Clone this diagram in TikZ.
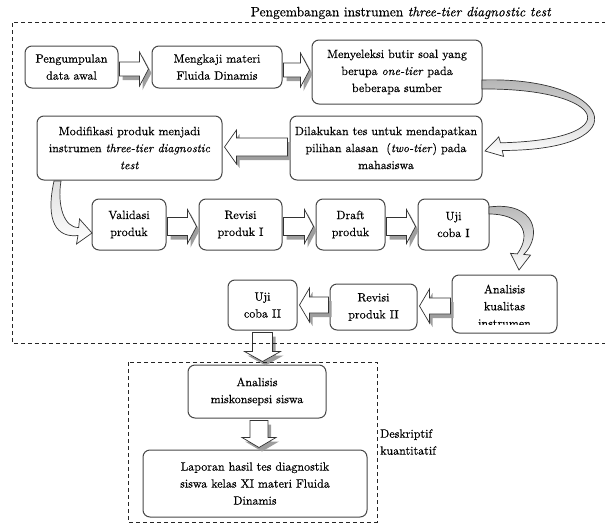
\documentclass[tikz,border=0pt]{standalone}
\usepackage{fontspec}
\setmainfont{lmroman10-regular.otf}[ItalicFont=lmroman10-italic.otf, FakeBold=0.35]
\usetikzlibrary{calc}
\newcommand\boxfont{\fontsize{12}{17}\selectfont}
\definecolor{shadowcol}{gray}{0.62}
\def\shx{3}\def\shy{4}
% horizontal block arrow: #1 tail, #2 tip, #3 shaft half, #4 head half, #5 head length, #6 dir
\newcommand\blockH[6]{%
 \fill[shadowcol] ($(#1)+(\shx,{\shy-#3})$) -- ($(#2)+({-(#6)*#5+\shx},{\shy-#3})$) -- ($(#2)+({-(#6)*#5+\shx},{\shy-#4})$) -- ($(#2)+(\shx,\shy)$) -- ($(#2)+({-(#6)*#5+\shx},{\shy+#4})$) -- ($(#2)+({-(#6)*#5+\shx},{\shy+#3})$) -- ($(#1)+(\shx,{\shy+#3})$) -- cycle;
 \filldraw[arrowline] ($(#1)+(0,-#3)$) -- ($(#2)+({-(#6)*#5},-#3)$) -- ($(#2)+({-(#6)*#5},-#4)$) -- (#2) -- ($(#2)+({-(#6)*#5},#4)$) -- ($(#2)+({-(#6)*#5},#3)$) -- ($(#1)+(0,#3)$) -- cycle;
}
% downward block arrow: #1 tail, #2 tip, #3 shaft half, #4 head half, #5 head length
\newcommand\blockV[5]{%
 \fill[shadowcol] ($(#1)+({\shx-#3},\shy)$) -- ($(#2)+({\shx-#3},{\shy-#5})$) -- ($(#2)+({\shx-#4},{\shy-#5})$) -- ($(#2)+(\shx,\shy)$) -- ($(#2)+({\shx+#4},{\shy-#5})$) -- ($(#2)+({\shx+#3},{\shy-#5})$) -- ($(#1)+({\shx+#3},\shy)$) -- cycle;
 \filldraw[arrowline] ($(#1)+(-#3,0)$) -- ($(#2)+(-#3,-#5)$) -- ($(#2)+(-#4,-#5)$) -- (#2) -- ($(#2)+(#4,-#5)$) -- ($(#2)+(#3,-#5)$) -- ($(#1)+(#3,0)$) -- cycle;
}
\begin{document}
\begin{tikzpicture}[x=1pt,y=-1pt,
  box/.style={draw=black!72, line width=1pt, rounded corners=7pt, fill=white,
    align=center, inner sep=2pt, font=\boxfont},
  arrowline/.style={draw=black!80, fill=white, line width=0.7pt, line join=miter},
  dashbox/.style={draw=black!85, line width=0.8pt, dash pattern=on 4pt off 3pt},
  curved/.style={draw=black!80, line width=0.7pt, top color=gray!60, bottom color=white}]
\useasboundingbox (0,0) rectangle (605,525);

% title
\node[font=\fontsize{13.5}{15}\selectfont, inner sep=0pt] (title) at (401,13)
  {Pengembangan instrumen \textit{three-tier diagnostic test}};

% boxes
\node[box, minimum width=93pt, minimum height=42pt] (b1) at (71.5,67) {Pengumpulan\\data awal};
\node[box, minimum width=130pt, minimum height=42pt] (b2) at (217,67) {Mengkaji materi\\Fluida Dinamis};
\node[box, minimum width=170pt, minimum height=64pt] (b3) at (397,72) {Menyeleksi butir soal yang\\berupa \textit{one-tier} pada\\beberapa sumber};
\node[box, minimum width=185pt, minimum height=64pt] (b4) at (129.5,148) {Modifikasi produk menjadi\\instrumen \textit{three-tier diagnostic}\\\textit{test}};
\node[box, minimum width=192pt, minimum height=64pt] (b5) at (386,148) {Dilakukan tes untuk mendapatkan\\pilihan alasan \ (\textit{two-tier}) pada\\mahasiswa};
\node[box, minimum width=74pt, minimum height=51pt] (b6) at (129,224.5) {Validasi\\produk};
\node[box, minimum width=83pt, minimum height=51pt] (b7) at (240.5,224.5) {Revisi\\produk I};
\node[box, minimum width=69pt, minimum height=51pt] (b8) at (350.5,224.5) {Draft\\produk};
\node[box, minimum width=71pt, minimum height=51pt] (b9) at (453.5,224.5) {Uji\\coba I};
\node[box, minimum width=105pt, minimum height=58pt] (b10) at (504.5,304) {};
\begin{scope}
  \clip (b10.north west) rectangle ($(b10.south east)+(0,-9)$);
  \node[font=\boxfont, align=center, anchor=north, inner sep=0pt] (t10) at ($(b10.north)+(0,10)$) {Analisis\\kualitas\\instrumen};
\end{scope}
\node[box, minimum width=87pt, minimum height=46pt] (b11) at (373.5,307) {Revisi\\produk II};
\node[box, minimum width=69pt, minimum height=50pt] (b12) at (262.5,305) {Uji\\coba II};
\node[box, minimum width=138pt, minimum height=53pt] (b13) at (257,391.5) {Analisis\\miskonsepsi siswa};
\node[box, minimum width=224pt, minimum height=67pt] (b14) at (255,483.5) {Laporan hasil tes diagnostik\\siswa kelas XI materi Fluida\\Dinamis};

\node[font=\boxfont, align=left, anchor=north west, inner sep=0pt] (desk) at (380,429) {Deskriptif\\kuantitatif};

% straight block arrows
\coordinate (a12s) at ($(b1.east)+(1,2)$);   \coordinate (a12e) at ($(b2.west)+(-3,2)$);
\coordinate (a23s) at ($(b2.east)+(1,3)$);   \coordinate (a23e) at ($(b3.west)+(-2,-2)$);
\coordinate (a54s) at ($(b5.west)+(-2,-1)$); \coordinate (a54e) at ($(b4.east)+(2,-1)$);
\coordinate (a67s) at ($(b6.east)+(1,2)$);   \coordinate (a67e) at ($(b7.west)+(-2,2)$);
\coordinate (a78s) at ($(b7.east)+(1,2)$);   \coordinate (a78e) at ($(b8.west)+(-2,2)$);
\coordinate (a89s) at ($(b8.east)+(1,2)$);   \coordinate (a89e) at ($(b9.west)+(-2,2)$);
\coordinate (aAs) at ($(b10.west)+(-1,2)$);  \coordinate (aAe) at ($(b11.east)+(2,-1)$);
\coordinate (aBs) at ($(b11.west)+(-1,-2)$); \coordinate (aBe) at ($(b12.east)+(2,0)$);
\coordinate (dCs) at ($(b12.south)+(0,2)$);  \coordinate (dCe) at ($(b13.north)+(5.5,-3)$);
\coordinate (dDs) at ($(b13.south)+(2,2)$);  \coordinate (dDe) at ($(b14.north)+(4,-2)$);

\blockH{a12s}{a12e}{7}{17}{9}{1}
\blockH{a23s}{a23e}{7}{17}{9}{1}
\blockH{a54s}{a54e}{9}{17}{12}{-1}
\blockH{a67s}{a67e}{9}{17}{9}{1}
\blockH{a78s}{a78e}{9}{17}{9}{1}
\blockH{a89s}{a89e}{9}{17}{9}{1}
\blockH{aAs}{aAe}{8}{17}{10}{-1}
\blockH{aBs}{aBe}{8}{17}{10}{-1}
\blockV{dCs}{dCe}{10}{18}{10}
\blockV{dDs}{dDe}{9}{17}{10}

% curved arrows
\path[curved] (482,80) .. controls (610,76) and (645,150) .. (502.2,150.5) -- (503.6,156.4) -- (485,151)
  -- (498.8,136.9) -- (500.5,142.8) .. controls (630,140) and (608,88) .. (482,89) -- cycle;
\path[curved, top color=gray!25] (54,181) .. controls (45,222) and (57,238) .. (78,235.5) -- (76.5,244) -- (92,233)
  -- (79.5,219) -- (78.7,227.5) .. controls (64,228) and (57,205) .. (61,181) -- cycle;
\path[curved] (489,207) .. controls (535,201) and (543,235) .. (523.8,254.4) -- (530.5,255.1) -- (519,270)
  -- (510.5,253.3) -- (517.3,253.9) .. controls (533,232) and (520,214) .. (489,214) -- cycle;

% dashed frames
\draw[dashbox] (620,22) -- (12,22) -- (12,343) -- (620,343);
\draw[dashbox] (128,362) rectangle (377,522);
\end{tikzpicture}
\end{document}
